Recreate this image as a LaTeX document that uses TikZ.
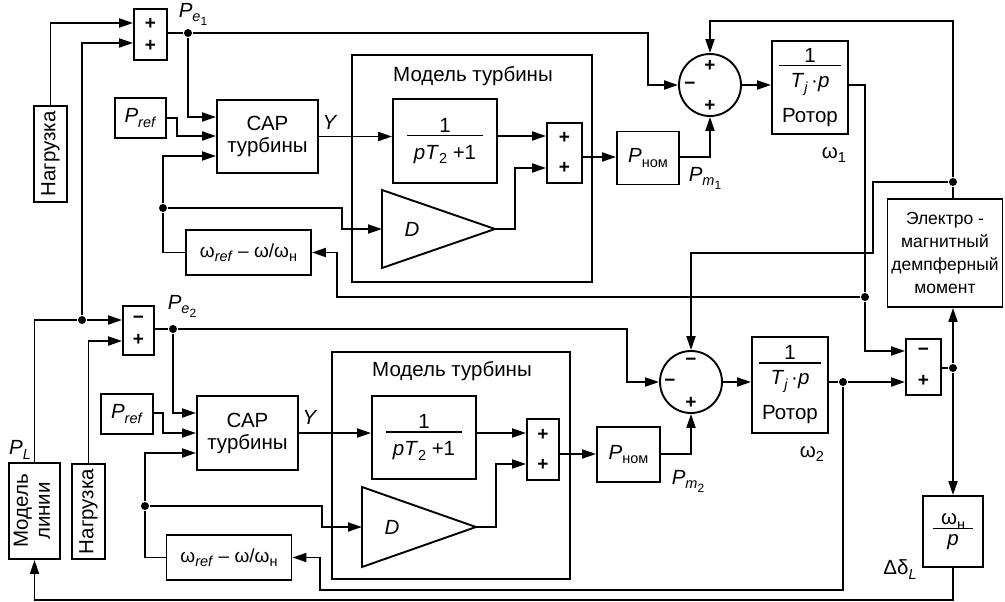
\documentclass[tikz,border=0pt]{standalone}
\usepackage{fontspec}
\setmainfont{Liberation Sans}
\usetikzlibrary{arrows.meta}
\newcommand\sbs[1]{\raisebox{-0.45ex}{\fontsize{14.5}{15}\selectfont #1}}
\newcommand\ssbs[1]{\raisebox{-0.4ex}{\fontsize{12}{12}\selectfont #1}}

\begin{document}
\begin{tikzpicture}[x=1pt, y=-1pt, line width=1.9pt,
  font=\fontsize{20.5}{22}\selectfont,
  block/.style={draw, align=center, inner sep=0pt},
  smalltxt/.style={font=\fontsize{19}{23}\selectfont},
  sumbox/.style={block, font=\fontsize{19}{22}\selectfont\bfseries},
  sumcirc/.style={draw, circle, minimum size=62pt, inner sep=0pt},
  sign/.style={inner sep=0pt, font=\fontsize{19}{22}\selectfont\bfseries},
  dot/.style={circle, fill, inner sep=0pt, minimum size=8pt},
  arr/.style={-{Triangle[length=14pt,width=9pt]}}]
  \useasboundingbox (0,0) rectangle (1005,602);

  % first machine
  \node[sumbox, minimum width=33, minimum height=51] (sumA) at (150.5,34.5) {+\\+};
  \node[block, minimum width=33, minimum height=96] (nagrA) at (50.5,154) {\rotatebox{90}{Нагрузка}};
  \node[block, minimum width=51, minimum height=40] (prefA) at (140.5,118) {\textit{P}\sbs{\textit{ref}}};
  \node[block, minimum width=101, minimum height=73] (sarA) at (267.5,136.5) {САР\\турбины};
  \node[block, smalltxt, minimum width=125, minimum height=45] (omA) at (248.5,252.5) {ω\sbs{\textit{ref}} – ω/ω\sbs{н}};
  \node[block, minimum width=240, minimum height=227] (turbA) at (472,168.5) {};
  \node (ttlA) at (473,76) {Модель турбины};
  \node[block, minimum width=104, minimum height=84] (tfA) at (445,141) {1\\[-18pt]\rule{76pt}{1.6pt}\\[1pt]\textit{pT}\sbs{2} +1};
  \node[sumbox, minimum width=35, minimum height=60] (isumA) at (564.5,153) {+\\[8pt]+};
  \node[block, minimum width=62, minimum height=53] (pnomA) at (648,158) {\textit{P}\sbs{ном}};
  \draw (382,190) -- (495,229) -- (382,268) -- cycle;
  \coordinate (dAin) at (382,229);
  \coordinate (dAout) at (495,229);
  \node (dA) at (412,229) {\textit{D}};
  \node[sumcirc] (circA) at (710,85) {};
  \node[sign] (sgA1) at (710,66) {+};
  \node[sign] (sgA2) at (690,86) {−};
  \node[sign] (sgA3) at (710,106) {+};
  \node[block, minimum width=76, minimum height=93] (rotA) at (810,87.5) {1\\[-18pt]\rule{62pt}{1.6pt}\\[-1pt]\textit{T}\sbs{\textit{j}}\,·\textit{p}\\[13pt]Ротор};
  \node[block, font=\fontsize{17.5}{23}\selectfont, minimum width=115, minimum height=108] (emA) at (945,253) {Электро -\\магнитный\\демпферный\\момент};

  \node[dot] (jPeA) at (188,33) {};
  \node[dot] (jfbA) at (163,208) {};
  \node[dot] (jwA) at (865,297) {};
  \node[dot] (jem) at (953,182) {};

  \node (lPeA) at (193,14) {\textit{P}\sbs{\textit{e}\ssbs{1}}};
  \node (lYA) at (330,122) {\textit{Y}};
  \node (lPmA) at (705,178) {\textit{P}\sbs{\textit{m}\ssbs{1}}};
  \node (lwA) at (834,155) {ω\sbs{1}};

  \draw[arr] (nagrA.north) |- (sumA.west |- 0,23);
  \draw (sumA.east |- jPeA) -- (jPeA);
  \draw[arr] (jPeA) -| (648,85) -- (circA.west);
  \draw[arr] (jPeA) |- (sarA.west |- 0,117);
  \draw[arr] (prefA.east) -| (177,136) -- (sarA.west |- 0,136);
  \draw[arr] (jfbA) |- (sarA.west |- 0,156);
  \draw (omA.west) -| (jfbA);
  \draw[arr] (jfbA) -| (342,229) -- (dAin);
  \draw[arr] (sarA.east) -- (tfA.west |- sarA.east);
  \draw[arr] (tfA.east |- 0,136) -- (isumA.west |- 0,136);
  \draw[arr] (dAout) -| (515,168) -- (isumA.west |- 0,168);
  \draw[arr] (isumA.east |- 0,157) -- (pnomA.west |- 0,157);
  \draw[arr] (pnomA.east |- 0,157) -| (circA.south);
  \draw[arr] (circA.east) -- (rotA.west |- circA.east);
  \draw (rotA.east |- circA.east) -| (jwA);
  \draw[arr] (jwA) -| ([xshift=25pt]omA.east) -- (omA.east);
  \draw (emA.north -| jem) -- (jem);
  \draw[arr] (jem) |- (circA.north |- 0,21) -- (circA.north);

  % second machine
  \node[sumbox, minimum width=31, minimum height=49] (sumB) at (138.5,330.5) {−\\+};
  \node[block, minimum width=51, minimum height=96] (mlin) at (34.5,511) {\rotatebox{90}{\begin{tabular}{@{}c@{}}Модель\\линии\end{tabular}}};
  \node[block, minimum width=33, minimum height=95] (nagrB) at (88.5,511.5) {\rotatebox{90}{Нагрузка}};
  \node[block, minimum width=52, minimum height=40] (prefB) at (127,414) {\textit{P}\sbs{\textit{ref}}};
  \node[block, minimum width=101, minimum height=74] (sarB) at (247.5,433) {САР\\турбины};
  \node[block, smalltxt, minimum width=125, minimum height=45] (omB) at (229,557.5) {ω\sbs{\textit{ref}} – ω/ω\sbs{н}};
  \node[block, minimum width=238, minimum height=227] (turbB) at (451,465.5) {};
  \node (ttlB) at (452,371) {Модель турбины};
  \node[block, minimum width=104, minimum height=83] (tfB) at (424,437.5) {1\\[-18pt]\rule{76pt}{1.6pt}\\[1pt]\textit{pT}\sbs{2} +1};
  \node[sumbox, minimum width=32, minimum height=61] (isumB) at (543,449.5) {+\\[8pt]+};
  \node[block, minimum width=63, minimum height=55] (pnomB) at (628.5,454.5) {\textit{P}\sbs{ном}};
  \draw (362,487) -- (476,527) -- (362,567) -- cycle;
  \coordinate (dBin) at (362,527);
  \coordinate (dBout) at (476,527);
  \node (dB) at (392,527) {\textit{D}};
  \node[sumcirc] (circB) at (691,382) {};
  \node[sign] (sgB1) at (691,362) {−};
  \node[sign] (sgB2) at (670,383) {−};
  \node[sign] (sgB3) at (691,403) {+};
  \node[block, minimum width=76, minimum height=96] (rotB) at (790,385) {1\\[-18pt]\rule{62pt}{1.6pt}\\[-1pt]\textit{T}\sbs{\textit{j}}\,·\textit{p}\\[13pt]Ротор};
  \node[sumbox, minimum width=35, minimum height=56] (sumC) at (923.5,367) {−\\[9pt]+};
  \node[block, minimum width=60, minimum height=71] (omp) at (953,531.5) {ω\sbs{н}\\[-17pt]\rule{40pt}{1.6pt}\\[-6pt]\textit{p}};

  \node[dot] (jPL) at (82,320) {};
  \node[dot] (jPeB) at (173,329) {};
  \node[dot] (jfbB) at (145,506) {};
  \node[dot] (jwB) at (843,382) {};
  \node[dot] (jsc) at (953,368) {};

  \node (lPeB) at (182,306) {\textit{P}\sbs{\textit{e}\ssbs{2}}};
  \node (lPL) at (20,450) {\textit{P}\sbs{\textit{L}}};
  \node (lYB) at (310,417) {\textit{Y}};
  \node (lPmB) at (688,481) {\textit{P}\sbs{\textit{m}\ssbs{2}}};
  \node (lwB) at (812,454) {ω\sbs{2}};
  \node (ldd) at (900,570) {Δδ\sbs{\textit{L}}};

  \draw (mlin.north) |- (jPL);
  \draw[arr] (jPL) -- (sumB.west |- jPL);
  \draw[arr] (jPL) |- (sumA.west |- 0,43);
  \draw[arr] (nagrB.north) |- (sumB.west |- 0,341);
  \draw (sumB.east |- jPeB) -- (jPeB);
  \draw[arr] (jPeB) -| (627,382) -- (circB.west);
  \draw[arr] (jPeB) |- (sarB.west |- 0,413);
  \draw[arr] (prefB.east |- 0,413) -| (163,433) -- (sarB.west);
  \draw[arr] (jfbB) |- (sarB.west |- 0,453);
  \draw (omB.west) -| (jfbB);
  \draw[arr] (jfbB) -| (322,527) -- (dBin);
  \draw[arr] (sarB.east) -- (tfB.west |- sarB.east);
  \draw[arr] (tfB.east |- 0,433) -- (isumB.west |- 0,433);
  \draw[arr] (dBout) -| (496,464) -- (isumB.west |- 0,464);
  \draw[arr] (isumB.east |- 0,454) -- (pnomB.west |- 0,454);
  \draw[arr] (pnomB.east |- 0,454) -| (circB.south);
  \draw[arr] (circB.east) -- (rotB.west |- circB.east);
  \draw (rotB.east |- circB.east) -- (jwB);
  \draw[arr] (jwB) -- (sumC.west |- jwB);
  \draw[arr] (jwB) |- (320,590) |- (omB.east);
  \draw[arr] (jwA) |- (sumC.west |- 0,351);
  \draw[arr] (jem) -| (873,253) -| (circB.north);
  \draw (sumC.east |- jsc) -- (jsc);
  \draw[arr] (jsc) -- (emA.south -| jsc);
  \draw[arr] (jsc) -- (omp.north);
  \draw[arr] (omp.south) |- (mlin.south |- 0,600) -- (mlin.south);
\end{tikzpicture}
\end{document}
